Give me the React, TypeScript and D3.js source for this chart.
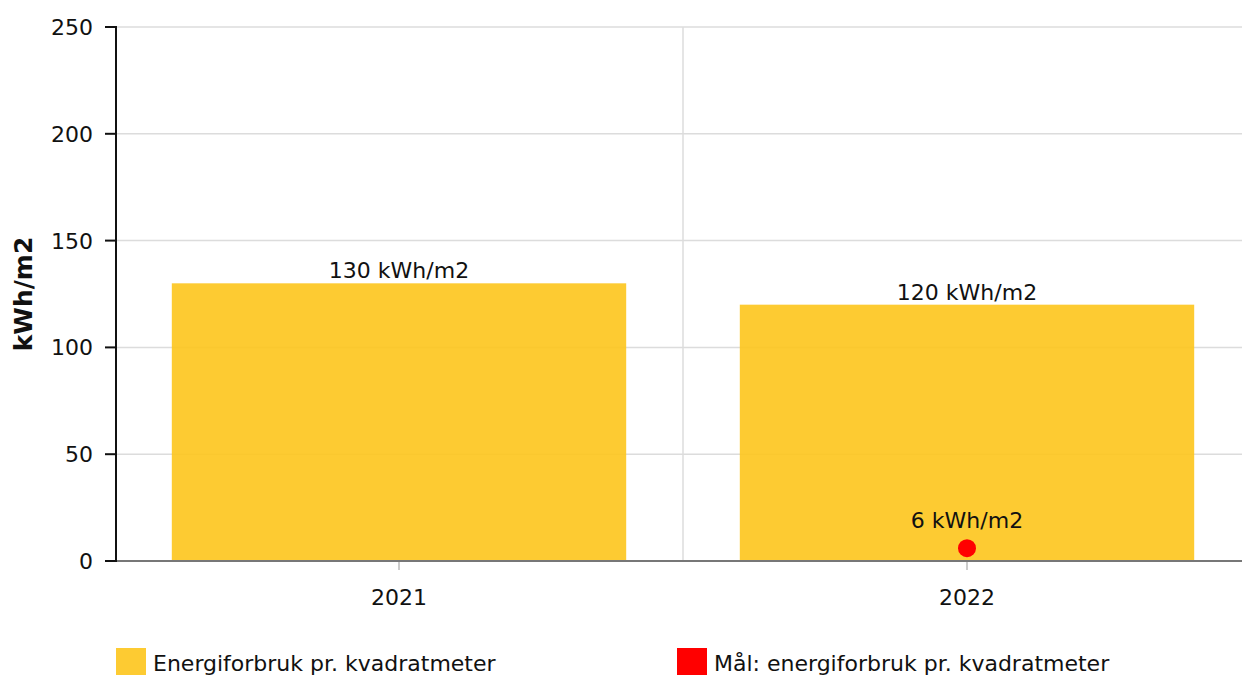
import * as React from "react";
import * as d3 from "d3";

const years = ["2021", "2022"];
const usage = [130, 120];
const goalYears = ["2022"];
const goalValues = [6];
const yTicks = [0, 50, 100, 150, 200, 250];
const unit = "kWh/m2";
const legendLabels = ["Energiforbruk pr. kvadratmeter", "Mål: energiforbruk pr. kvadratmeter"];

const font = "'DejaVu Sans', Verdana, sans-serif";
const barColor = "rgb(253,197,28)";
const goalColor = "#ff0000";
const fs = 22;

const App = () => {
  const left = 116;
  const top = 27;
  const bottom = 561;

  const xScale = d3.scaleBand().domain(years).range([115, 1251]).paddingInner(0.2).paddingOuter(0.1);
  const yScale = d3.scaleLinear().domain([0, 250]).range([bottom, top]);

  const center = (y: string) => (xScale(y) as number) + xScale.bandwidth() / 2;
  const step = xScale.step();

  return (
    <svg
      width={1260}
      height={675}
      style={{ position: "absolute", left: 0, top: 0, fontFamily: font }}
    >
      {yTicks.map((t) => (
        <line key={"g" + t} x1={left} x2={1260} y1={yScale(t)} y2={yScale(t)} stroke="#dcdcdc" strokeWidth={1.5} />
      ))}
      {years.slice(1).map((y) => (
        <line
          key={"v" + y}
          x1={center(y) - step / 2}
          x2={center(y) - step / 2}
          y1={top}
          y2={bottom}
          stroke="#dcdcdc"
          strokeWidth={1.5}
        />
      ))}
      {years.map((y, i) => (
        <g key={"b" + y}>
          <rect
            x={center(y) - step * 0.4}
            width={step * 0.8}
            y={yScale(usage[i])}
            height={bottom - yScale(usage[i])}
            fill={barColor}
            opacity={0.9}
          />
          <text x={center(y)} y={yScale(usage[i]) - 5} textAnchor="middle" fontSize={fs} fill="#111">
            {usage[i]} {unit}
          </text>
        </g>
      ))}
      {goalYears.map((y, i) => (
        <g key={"d" + y}>
          <circle cx={center(y)} cy={yScale(goalValues[i])} r={9} fill={goalColor} />
          <text x={center(y)} y={yScale(goalValues[i]) - 20} textAnchor="middle" fontSize={fs} fill="#111">
            {goalValues[i]} {unit}
          </text>
        </g>
      ))}
      <line x1={left} x2={1260} y1={bottom} y2={bottom} stroke="#777" strokeWidth={2} />
      {years.map((y) => (
        <g key={"x" + y}>
          <line x1={center(y)} x2={center(y)} y1={bottom + 1} y2={bottom + 9} stroke="#bbb" strokeWidth={1.5} />
          <text x={center(y)} y={605} textAnchor="middle" fontSize={fs} fill="#111">
            {y}
          </text>
        </g>
      ))}
      <line x1={left} x2={left} y1={top - 1} y2={bottom + 1} stroke="#111" strokeWidth={2} />
      {yTicks.map((t) => (
        <g key={"y" + t}>
          <line x1={left - 11} x2={left} y1={yScale(t)} y2={yScale(t)} stroke="#111" strokeWidth={2} />
          <text x={93} y={yScale(t) + 8} textAnchor="end" fontSize={fs} fill="#111">
            {t}
          </text>
        </g>
      ))}
      <text
        transform={`translate(32, ${(top + bottom) / 2 + 0}) rotate(-90)`}
        textAnchor="middle"
        fontSize={25}
        fontWeight="bold"
        fill="#111"
      >
        {unit}
      </text>
      {legendLabels.map((l, i) => (
        <g key={"l" + i} transform={`translate(${i === 0 ? 116 : 677}, 648)`}>
          <rect width={30} height={30} fill={i === 0 ? barColor : goalColor} opacity={i === 0 ? 0.9 : 1} />
          <text x={37} y={23} fontSize={fs} fill="#111">
            {l}
          </text>
        </g>
      ))}
    </svg>
  );
};

export default App;
